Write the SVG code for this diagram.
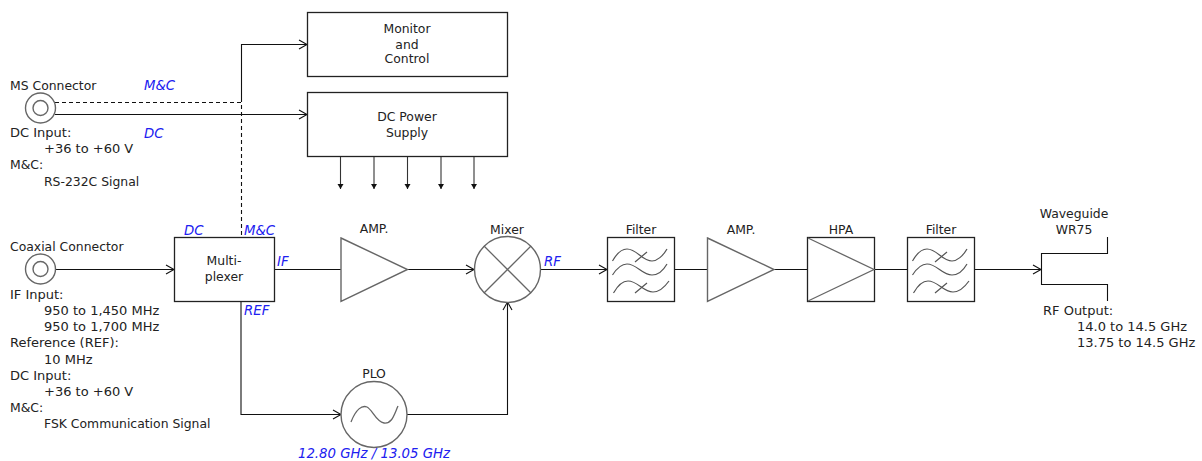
<svg xmlns="http://www.w3.org/2000/svg" width="1202" height="461" viewBox="0 0 1202 461">
<defs>
<marker id="a" markerUnits="userSpaceOnUse" markerWidth="12" markerHeight="12" refX="9" refY="6" orient="auto"><path d="M1 1.500L9 6L1 10.500" fill="none" stroke="#111" stroke-width="1.1"/></marker>
<marker id="f" markerUnits="userSpaceOnUse" markerWidth="8" markerHeight="8" refX="5" refY="4" orient="auto"><path d="M0 1L5 4L0 7Z" fill="#111"/></marker>
<g id="filt" fill="none" stroke="#555" stroke-width="1.2">
<path d="M5.500 25C10 17 15 13 20 13C30 13 35 25 45 25C50 25 56 20 60 13"/>
<path d="M5.500 39C10 32 15 28 20 28C30 28 35 39 45 39C50 39 56 35 60 28"/>
<path d="M6.500 57C11 49 16 45 21 45C31 45 36 56 46 56C51 56 57 52 62 45"/>
<path d="M28 26L40 16M28 57L40 47"/>
</g>
</defs>
<style>
text{font-family:"DejaVu Sans",sans-serif;font-size:12.4px;fill:#222}
text.n{font-size:13px}
.m{text-anchor:middle}
text.b{fill:#2020f0;font-style:italic;font-size:13.3px}
.box{fill:#fff;stroke:#222;stroke-width:1.3}
.sh{fill:#fff;stroke:#666;stroke-width:1.4}
.in{fill:none;stroke:#666;stroke-width:1.3}
.c{fill:none;stroke:#111;stroke-width:1.1}
.d{stroke-dasharray:4 3}
.r{marker-end:url(#a)}
.s{marker-end:url(#f);stroke:#333}
</style>
<g id="connectors">
<path class="c d" d="M55 102.500H241.500V237"/>
<path class="c r" d="M241.500 102V44.500H307"/>
<path class="c r" d="M55 114.500H307"/>
<path class="c s" d="M340.500 157V189"/>
<path class="c s" d="M374 157V189"/>
<path class="c s" d="M407.500 157V189"/>
<path class="c s" d="M441 157V189"/>
<path class="c s" d="M474 157V189"/>
<path class="c r" d="M55 269.500H174"/>
<path class="c" d="M274 269.500H341"/>
<path class="c r" d="M407 269.500H474"/>
<path class="c r" d="M541 269.500H607"/>
<path class="c" d="M674 269.500H707"/>
<path class="c" d="M774 269.500H807"/>
<path class="c" d="M874 269.500H907"/>
<path class="c r" d="M974 269.500H1041"/>
<path class="c r" d="M241 301V414.500H341"/>
<path class="c r" d="M407 414.500H507.500V302"/>
</g>
<g id="ms-connector"><circle class="sh" cx="40.500" cy="108" r="15"/><circle class="sh" cx="40.500" cy="108" r="7.500"/>
<text x="10" y="90">MS Connector</text><text class="n" x="10" y="137">DC Input:</text><text class="n" x="44" y="153">+36 to +60 V</text><text x="10" y="169">M&amp;C:</text><text x="44" y="186">RS-232C Signal</text></g>
<g id="coax-connector"><circle class="sh" cx="40.500" cy="269" r="15"/><circle class="sh" cx="40.500" cy="269" r="7.500"/>
<text x="10" y="251">Coaxial Connector</text><text class="n" x="10" y="299">IF Input:</text><text class="n" x="44" y="315">950 to 1,450 MHz</text><text class="n" x="44" y="331">950 to 1,700 MHz</text><text class="n" x="10" y="347">Reference (REF):</text><text class="n" x="44" y="364">10 MHz</text><text class="n" x="10" y="380">DC Input:</text><text class="n" x="44" y="396">+36 to +60 V</text><text x="10" y="412">M&amp;C:</text><text x="44" y="428">FSK Communication Signal</text></g>
<g id="monitor"><rect class="box" x="307.500" y="12.500" width="200" height="64"/><text class="m" x="407" y="33">Monitor</text><text class="m" x="407" y="49">and</text><text class="m" x="407" y="63">Control</text></g>
<g id="dc-power"><rect class="box" x="307.500" y="92.500" width="200" height="64"/><text class="m" x="407" y="121">DC Power</text><text class="m" x="407" y="137">Supply</text></g>
<g id="mux"><rect class="box" x="174.500" y="237.500" width="100" height="64"/><text class="m" x="224" y="265">Multi-</text><text class="m" x="224" y="281">plexer</text></g>
<g id="amp1"><path class="sh" d="M341 238L407.500 269.500L341 301.500Z"/><text class="m" x="374" y="233">AMP.</text></g>
<g id="mixer"><circle class="sh" cx="507.500" cy="269.500" r="33"/><path class="in" d="M484 246L531 293M531 246L484 293"/><text class="m" x="507" y="234">Mixer</text></g>
<g id="filter1"><rect class="box" x="607.500" y="237.500" width="67" height="64"/><use href="#filt" x="607" y="236"/><text class="m" x="641" y="234">Filter</text></g>
<g id="amp2"><path class="sh" d="M707.500 238L774 269.500L707.500 301.500Z"/><text class="m" x="741" y="234">AMP.</text></g>
<g id="hpa"><rect class="box" x="807.500" y="237.500" width="67" height="64"/><path class="in" d="M808 238L874 269.500L808 301"/><text class="m" x="841" y="234">HPA</text></g>
<g id="filter2"><rect class="box" x="907.500" y="237.500" width="67" height="64"/><use href="#filt" x="907" y="236"/><text class="m" x="941" y="234">Filter</text></g>
<g id="waveguide"><path class="c" d="M1107.500 237V253.500H1041.500V284.500H1107.500V301"/><text class="m" x="1074" y="218">Waveguide</text><text class="m" x="1074" y="234">WR75</text><text class="n" x="1043" y="315">RF Output:</text><text class="n" x="1077" y="331">14.0 to 14.5 GHz</text><text class="n" x="1077" y="347">13.75 to 14.5 GHz</text></g>
<g id="plo"><circle class="sh" cx="374" cy="414.500" r="33"/><path class="in" d="M351 422C356 409 362 405 367 407S376 422 384 423S394 415 398 406"/><text class="m" x="374" y="378">PLO</text></g>
<g id="labels"><text class="b" x="144" y="90">M&amp;C</text><text class="b" x="144" y="138">DC</text><text class="b" x="184" y="235">DC</text><text class="b" x="244" y="235">M&amp;C</text><text class="b" x="277" y="266">IF</text><text class="b" x="244" y="315">REF</text><text class="b" x="544" y="266">RF</text><text class="b m" x="374" y="458">12.80 GHz / 13.05 GHz</text></g>
</svg>
